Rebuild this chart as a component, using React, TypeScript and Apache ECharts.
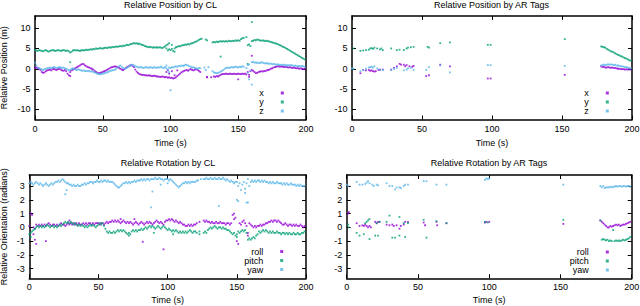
import React, { useEffect, useRef } from "react";
import * as echarts from "echarts";

// ---- sampling times of the CL estimates (s) ----
const CL_TIME = [
  0, 1, 2, 3, 4, 5, 6, 7, 8, 9, 10, 11, 12, 13, 14, 15, 16, 17, 18, 19,
  20, 21, 22, 23, 24, 25, 26, 27, 28, 29, 30, 31, 32, 33, 34, 35, 36, 37, 38, 39,
  40, 41, 42, 43, 44, 45, 46, 47, 48, 49, 50, 51, 52, 53, 54, 55, 56, 57, 58, 59,
  60, 61, 62, 63, 64, 65, 66, 67, 68, 69, 70, 71, 72, 73, 74, 75, 76, 77, 78, 79,
  80, 81, 82, 83, 84, 85, 86, 87, 88, 89, 90, 91, 92, 93, 94, 95, 96, 97, 98, 99,
  100, 101, 102, 103, 104, 105, 106, 107, 108, 109, 110, 111, 112, 113, 114, 115, 116, 117, 118, 119,
  120, 121, 122, 123, 124, 125, 126, 127, 128, 129, 130, 131, 132, 133, 134, 135, 136, 137, 138, 139,
  140, 141, 142, 143, 144, 145, 146, 147, 148, 149, 150, 151, 152, 153, 154, 155, 156, 157, 158, 159,
  160, 161, 162, 163, 164, 165, 166, 167, 168, 169, 170, 171, 172, 173, 174, 175, 176, 177, 178, 179,
  180, 181, 182, 183, 184, 185, 186, 187, 188, 189, 190, 191, 192, 193, 194, 195, 196, 197, 198, 199,
];

// ---- Relative Position by CL (m) ----
const CL_POS_X = [
  0.2, 0.3, 0.1, 0.0, -0.3, -0.8, -1.0, -0.9, -0.6, -0.4,
  -0.3, -0.2, -0.4, -0.1, 0.0, -0.2, -0.3, -0.1, 0.0, -0.2,
  -0.4, -0.5, -0.3, -0.6, -1.2, -1.6, -0.8, -0.4, -0.2, 0.0,
  0.2, 0.4, 0.6, 0.8, 1.0, 1.2, 1.1, 0.8, 0.6, 0.4,
  0.3, 0.1, 0.0, -0.2, -0.5, -0.8, -1.0, -1.1, -1.0, -0.9,
  -0.8, -0.6, -0.5, -0.3, -0.1, 0.1, 0.3, 0.4, 0.5, 0.6,
  0.5, 0.4, 0.2, 0.0, -0.2, -0.3, -0.1, 0.2, 0.4, 0.6,
  0.8, 0.9, 0.7, 0.4, -0.2, -0.7, -1.0, -1.3, -1.4, -1.5,
  -1.5, -1.6, -1.6, -1.7, -1.6, -1.7, -1.8, -1.8, -1.7, -1.8,
  -1.9, -1.9, -2.0, -2.0, -1.9, -2.0, -2.1, -2.0, -2.2, -2.1,
  -2.3, -2.2, -2.4, -2.3, -2.1, -1.8, -1.5, -1.2, -0.9, -0.7,
  -0.5, -0.4, -0.3, -0.5, -0.2, -0.1, -0.3, -0.4, -0.2, -0.1,
  -0.3, -0.5, -0.8, null, null, null, null, -2.0, null, null,
  -2.1, null, -1.9, -2.0, -1.8, -1.9, -1.7, -1.5, -1.3, -1.3,
  -1.3, -1.2, -1.3, -1.3, -1.2, -1.3, -1.3, -1.2, -1.3, -1.3,
  -1.2, -1.3, -1.3, -1.2, -1.3, -1.2, -1.4, -0.8, -1.5, -0.6,
  -0.3, -0.5, -0.8, -1.1, -1.0, -0.8, -0.7, -0.6, -0.7, -0.5,
  -0.6, -0.4, -0.3, -0.2, 0.0, 0.1, 0.3, 0.4, 0.5, 0.6,
  0.6, 0.5, 0.6, 0.5, 0.4, 0.5, 0.4, 0.3, 0.4, 0.3,
  0.2, 0.3, 0.2, 0.1, 0.2, 0.0, 0.1, 0.0, -0.1, 0.0,
];
const CL_POS_X_EXTRA = [
  [26, -1.8], [97, -0.8], [99, -1.2], [101, -0.6], [103, -1.6], [127, -2.1],
  [150, -2.6], [158, -2.0], [160, 3.2], [105, -0.4], [98, -0.3],
];

const CL_POS_Y = [
  4.6, 4.5, 4.4, 4.6, 4.5, 4.4, 4.3, 4.5, 4.6, 4.4,
  4.2, 4.4, 4.5, 4.6, 4.5, 4.4, 4.5, 4.6, 4.5, 4.4,
  4.5, 4.6, 4.5, 4.4, 4.5, 4.3, 4.0, 4.2, 4.5, 4.6,
  4.5, 4.6, 4.5, 4.4, 4.5, 4.6, 4.5, 4.6, 4.7, 4.6,
  4.7, 4.8, 4.7, 4.9, 4.8, 5.0, 4.9, 5.0, 5.1, 5.0,
  5.0, 5.1, 5.2, 5.1, 5.2, 5.3, 5.2, 5.4, 5.3, 5.4,
  5.5, 5.4, 5.5, 5.6, 5.5, 5.7, 5.6, 5.8, 5.9, 5.8,
  6.0, 6.1, 6.2, 6.3, 6.2, 6.3, 6.1, 6.2, 6.0, 5.9,
  5.8, 5.6, 5.5, 5.4, 5.3, 5.4, 5.3, 5.2, 5.3, 5.2,
  5.3, 5.2, 5.3, 5.2, 5.1, 5.3, 5.5, 5.8, 6.0, 4.8,
  4.6, 4.9, 4.4, 5.0, 5.3, 5.4, 5.6, 5.5, 5.7, 5.8,
  5.8, 6.0, 5.9, 6.1, 6.0, 6.2, 6.3, 6.4, 6.6, 6.7,
  6.9, 7.1, 7.3, 7.4, null, null, 7.2, 7.0, null, null,
  null, 6.5, 6.6, 6.5, 6.7, 6.6, 6.7, 6.8, 6.7, 6.8,
  6.7, 6.8, 6.7, 6.9, 6.8, 6.8, 6.9, 6.8, 7.0, 6.9,
  7.0, 6.9, 7.3, 7.5, 7.6, null, 7.8, 5.8, 6.0, 5.6,
  6.8, 6.9, 7.1, 7.0, 7.2, 7.1, 7.0, 6.9, 7.0, 6.9,
  6.8, 6.9, 6.8, 6.7, 6.6, 6.5, 6.4, 6.3, 6.2, 6.1,
  5.9, 5.8, 5.6, 5.4, 5.3, 5.1, 4.9, 4.7, 4.5, 4.3,
  4.1, 3.9, 3.7, 3.5, 3.3, 3.1, 2.9, 2.7, 2.5, 2.3,
];
const CL_POS_Y_EXTRA = [
  [26, 1.6], [137, 3.0], [160, 11.5], [157, 1.2], [98, 4.5], [99, 6.3],
  [101, 5.9], [103, 4.2], [97, 5.0],
];

const CL_POS_Z = [
  1.5, 0.8, 0.3, 0.1, 0.0, -0.2, -0.3, -0.1, 0.0, 0.1,
  0.2, 0.3, 0.2, 0.3, 0.4, 0.3, 0.2, 0.3, 0.4, 0.3,
  0.2, 0.3, 0.1, 0.0, -0.2, -0.4, -0.3, 0.0, 0.1, -0.1,
  -0.2, -0.3, -0.1, -0.3, -0.4, -0.5, -0.4, -0.6, -0.5, -0.6,
  -0.5, -0.7, -0.6, -0.8, -0.9, -1.0, -1.2, -1.3, -1.4, -1.3,
  -1.2, -1.1, -1.0, -0.9, -0.8, -0.6, -0.5, -0.4, -0.3, -0.2,
  0.0, 0.3, 0.6, 0.8, 0.5, 0.2, 0.0, 0.1, 0.3, 0.5,
  0.7, 0.9, 1.0, 0.8, 0.6, 0.5, 0.4, 0.3, 0.5, 0.3,
  0.2, 0.3, 0.4, 0.3, 0.2, 0.4, 0.3, 0.2, 0.4, 0.3,
  0.2, 0.4, 0.3, 0.5, 0.3, 0.2, 0.4, 0.1, -0.2, 0.3,
  0.2, 0.4, 0.3, 0.5, 0.6, 0.5, 0.7, 0.6, 0.8, 0.7,
  0.8, 1.0, 0.9, 0.8, 0.6, 0.5, 0.3, 0.4, 0.2, 0.1,
  0.0, 0.2, 0.1, null, null, 0.3, null, null, 0.4, null,
  null, -0.6, -0.9, -1.0, -1.1, -1.0, -0.9, -0.7, -0.5, -0.3,
  0.0, 0.2, 0.3, 0.2, 0.3, 0.4, 0.3, 0.4, 0.5, 0.4,
  0.3, 0.5, 0.4, 0.6, 0.5, null, 0.2, -1.0, 1.0, -0.4,
  1.6, 1.7, 1.5, 1.6, 1.4, 1.5, 1.4, 1.6, 1.5, 1.4,
  1.3, 1.4, 1.3, 1.2, 1.3, 1.1, 1.2, 1.1, 1.0, 1.1,
  1.0, 0.9, 1.0, 0.9, 1.0, 0.9, 0.8, 0.9, 0.8, 0.9,
  0.8, 0.7, 0.8, 0.7, 0.6, 0.7, 0.6, 0.7, 0.6, 0.5,
];
const CL_POS_Z_EXTRA = [
  [100, -5.3], [160, -3.9], [158, -2.6], [157, 0.9], [99, -0.8], [97, 0.8],
  [126, -0.3],
];

// ---- Relative Rotation by CL (radians) ----
const CL_ROT_ROLL = [
  0.1, 1.0, 0.9, 0.0, -0.1, 0.2, 0.1, 0.2, 0.1, 0.2,
  0.1, 0.2, 0.1, 0.2, 0.3, 0.2, 0.1, 0.2, 0.2, 0.1,
  0.2, 0.1, 0.2, 0.3, 0.2, 0.2, 0.1, 0.2, 0.3, 0.2,
  0.3, 0.2, 0.3, 0.2, 0.3, 0.2, 0.3, 0.2, 0.2, 0.3,
  0.2, 0.3, 0.2, 0.3, 0.3, 0.2, 0.3, 0.2, 0.3, 0.3,
  0.3, 0.2, 0.3, 0.3, 0.2, 0.3, 0.4, 0.3, 0.4, 0.4,
  0.5, 0.4, 0.5, 0.4, 0.5, 0.4, 0.3, 0.4, 0.5, 0.4,
  0.3, 0.4, 0.3, 0.4, 0.3, 0.2, 0.3, 0.4, 0.3, 0.2,
  0.3, 0.4, 0.3, 0.2, 0.3, 0.4, 0.3, 0.4, 0.3, 0.2,
  0.3, 0.4, 0.5, 0.4, 0.3, 0.4, 0.3, 0.2, 0.4, 0.5,
  0.5, 0.6, 0.5, 0.6, 0.5, 0.4, 0.5, 0.4, 0.3, 0.4,
  0.3, 0.2, 0.2, 0.1, 0.1, 0.2, 0.1, 0.2, 0.1, 0.2,
  0.2, 0.3, null, 0.4, null, null, 0.5, 0.4, 0.5, 0.4,
  0.4, 0.3, 0.4, 0.3, 0.3, 0.4, 0.3, 0.3, 0.4, 0.3,
  0.3, 0.3, 0.2, 0.3, 0.3, 0.2, 0.3, 0.9, 1.0, 0.7,
  -1.0, -1.2, 0.3, 0.2, 0.4, 0.5, 0.3, 0.1, -0.4, 0.3,
  0.2, 0.1, 0.0, 0.1, 0.0, 0.1, 0.1, 0.2, 0.1, 0.2,
  0.2, 0.3, 0.3, 0.4, 0.4, 0.5, 0.4, 0.5, 0.5, 0.4,
  0.5, 0.4, 0.3, 0.2, 0.2, 0.3, 0.2, 0.1, 0.2, 0.2,
  0.1, 0.2, 0.1, 0.2, 0.1, 0.1, 0.2, 0.1, 0.0, 0.1,
];
const CL_ROT_ROLL_EXTRA = [
  [3, -0.5], [4, -0.9], [5, -1.2], [12, -1.0], [82, -1.05], [97, -1.6],
  [148, 0.6], [158, -0.6], [29, 0.5], [66, 0.6], [76, 0.6],
];

const CL_ROT_PITCH = [
  -0.5, -0.4, -0.3, -0.2, -0.1, 0.0, 0.1, 0.0, 0.1, 0.0,
  0.1, 0.0, 0.1, 0.2, 0.1, 0.0, 0.1, 0.1, 0.0, 0.1,
  0.0, 0.1, 0.2, 0.1, 0.2, 0.3, 0.4, 0.3, 0.4, 0.3,
  0.4, 0.3, 0.2, 0.3, 0.2, 0.1, 0.2, 0.1, 0.2, 0.1,
  0.0, 0.1, 0.0, 0.1, 0.2, 0.1, 0.2, 0.1, 0.0, 0.1,
  0.2, 0.3, 0.2, 0.3, 0.1, -0.1, -0.3, -0.4, -0.3, -0.4,
  -0.4, -0.3, -0.4, -0.3, -0.2, -0.3, -0.2, -0.3, -0.2, -0.3,
  -0.4, -0.5, -0.4, -0.5, -0.3, -0.2, -0.3, -0.2, -0.3, -0.2,
  -0.2, -0.1, -0.2, -0.1, 0.0, -0.1, 0.0, 0.1, 0.0, 0.1,
  0.0, -0.1, 0.0, 0.1, 0.0, -0.1, 0.0, 0.1, 0.0, -0.1,
  -0.2, -0.1, -0.2, -0.3, -0.2, -0.3, -0.2, -0.3, -0.4, -0.3,
  -0.4, -0.3, -0.4, -0.3, -0.4, -0.3, -0.2, -0.3, -0.4, -0.3,
  -0.3, -0.4, null, -0.3, null, null, -0.4, -0.3, -0.4, -0.2,
  -0.1, 0.0, -0.1, 0.0, 0.1, 0.0, -0.1, 0.0, 0.0, -0.1,
  0.0, -0.1, -0.1, -0.2, -0.2, -0.3, -0.4, -0.5, -0.4, -0.6,
  -0.5, -0.3, -0.4, -0.3, -0.2, -0.3, -0.2, -0.4, -0.9, -0.8,
  -0.9, -0.8, -0.7, -0.8, -0.6, -0.5, -0.3, -0.4, -0.3, -0.2,
  -0.3, -0.2, -0.3, -0.4, -0.3, -0.4, -0.3, -0.4, -0.4, -0.3,
  -0.4, -0.4, -0.5, -0.4, -0.4, -0.5, -0.4, -0.5, -0.4, -0.5,
  -0.5, -0.4, -0.5, -0.5, -0.4, -0.5, -0.5, -0.4, -0.4, -0.3,
];
const CL_ROT_PITCH_EXTRA = [
  [1, -0.7], [72, -0.6], [90, -0.4], [104, -0.5], [123, -0.5], [150, -0.7],
];

const CL_ROT_YAW = [
  3.2, 3.3, 3.2, 3.1, 3.2, 3.3, 3.2, 3.1, 3.2, 3.1,
  3.0, 3.1, 3.2, 3.1, 3.0, 3.1, 3.2, 3.1, 3.2, 3.3,
  3.3, 3.4, 3.3, 3.4, 3.5, 3.4, 3.3, 3.2, 3.2, 3.1,
  3.1, 3.0, 3.1, 3.0, 3.0, 3.1, 3.0, 3.0, 3.1, 3.1,
  3.2, 3.1, 3.2, 3.2, 3.3, 3.3, 3.2, 3.3, 3.3, 3.4,
  3.3, 3.3, 3.4, 3.3, 3.4, 3.4, 3.3, 3.4, 3.3, 3.3,
  3.3, 3.2, 3.1, 3.0, 2.9, 2.9, 3.0, 3.1, 3.2, 3.2,
  3.3, 3.2, 3.3, 3.2, 3.3, 3.3, 3.4, 3.3, 3.4, 3.4,
  3.4, 3.5, 3.4, 3.5, 3.4, 3.5, 3.5, 3.4, 3.5, 3.5,
  3.5, 3.6, 3.5, 3.5, 3.6, 3.5, 3.5, 3.4, 3.5, 3.5,
  3.5, 3.4, 3.5, 3.4, 3.3, 3.2, 3.1, 3.0, 2.9, 3.0,
  3.1, 3.2, 3.2, 3.3, 3.2, 3.3, 3.2, 3.3, 3.3, 3.3,
  3.3, 3.4, 3.4, null, 3.5, null, 3.5, 3.5, 3.6, 3.5,
  3.5, 3.6, 3.5, 3.5, 3.6, 3.5, 3.5, 3.6, 3.5, 3.5,
  3.6, 3.5, 3.4, 3.5, 3.4, 3.3, 3.4, 3.3, 3.2, 3.3,
  3.3, 3.0, 3.2, 2.7, 3.1, 3.3, 2.8, 3.2, 3.5, 3.0,
  3.3, 3.4, 3.3, 3.4, 3.3, 3.4, 3.4, 3.3, 3.4, 3.3,
  3.4, 3.3, 3.3, 3.2, 3.3, 3.2, 3.3, 3.2, 3.2, 3.3,
  3.2, 3.2, 3.2, 3.1, 3.2, 3.1, 3.2, 3.1, 3.1, 3.2,
  3.1, 3.1, 3.1, 3.0, 3.1, 3.0, 3.1, 3.0, 3.0, 3.0,
];
const CL_ROT_YAW_EXTRA = [
  [26, 2.4], [27, 2.7], [88, 1.45], [89, 2.6], [137, 1.55], [150, 2.0],
  [151, 1.9], [157, 1.8], [158, 1.8], [156, 2.5], [95, 3.1], [100, 3.2],
];

// ---- Relative Position by AR Tags (m), [time, value] ----
const AR_POS_X = [
  [6, -1.1], [8, -0.3], [10, -0.4], [12, -0.3], [13, -0.5], [14, -0.4], [15, -0.6],
  [16, -0.7], [17, -0.6], [19, -0.3], [20, -0.2], [22, -0.2], [28, -0.2], [30, 0.2],
  [32, 0.6], [34, 1.2], [35, 1.0], [37, 1.0], [38, 0.6], [39, 0.9], [41, 0.6],
  [43, 0.5], [44, 0.7], [53, -1.8], [55, -1.6], [63, 1.0], [70, 0.6], [97, -2.4],
  [99, -2.4], [152, -1.5],
  [178, 0.6], [179, 0.4], [180, 0.5], [181, 0.3], [182, 0.3], [183, 0.4], [184, 0.3],
  [185, 0.2], [186, 0.3], [187, 0.2], [188, 0.2], [189, 0.1], [190, 0.0], [191, 0.0],
  [192, -0.1], [193, -0.1], [194, -0.1], [195, -0.2], [196, -0.1], [197, -0.2],
  [198, -0.1], [199, -0.2],
];
const AR_POS_Y = [
  [1, 5.0], [6, 4.4], [8, 4.5], [10, 4.6], [12, 4.7], [13, 5.0], [14, 5.1], [15, 4.9],
  [16, 5.2], [18, 5.0], [20, 4.8], [21, 5.0], [22, 4.6], [28, 5.0], [32, 4.6],
  [34, 4.7], [37, 4.6], [39, 5.0], [40, 5.2], [42, 5.3], [44, 5.4], [54, 5.4],
  [55, 5.2], [63, 6.3], [70, 6.5], [97, 5.9], [99, 5.9], [152, 7.3],
  [178, 5.5], [179, 5.4], [180, 5.3], [181, 5.2], [182, 4.9], [183, 4.7], [184, 4.5],
  [185, 4.3], [186, 4.2], [187, 4.0], [188, 3.8], [189, 3.6], [190, 3.4], [191, 3.3],
  [192, 3.1], [193, 3.0], [194, 2.8], [195, 2.6], [196, 2.5], [197, 2.3], [198, 2.1],
  [199, 2.0],
];
const AR_POS_Z = [
  [0, 0.1], [1, 0.0], [6, -0.6], [8, -0.3], [10, 0.0], [12, 0.3], [13, 0.4], [14, 0.5],
  [15, 0.3], [16, 0.6], [18, 0.1], [20, -0.2], [22, -0.3], [28, -0.3], [30, 0.0],
  [32, 0.2], [37, -0.4], [39, -0.2], [40, 0.1], [42, 0.2], [44, -0.3], [53, -0.3],
  [55, 0.4], [63, 0.8], [70, -0.9], [97, 0.9], [99, 0.9], [152, 0.7],
  [178, 0.8], [179, 0.9], [180, 1.0], [181, 0.9], [182, 1.0], [183, 1.1], [184, 1.0],
  [185, 1.1], [186, 1.0], [187, 0.9], [188, 1.0], [189, 0.8], [190, 0.8], [191, 0.7],
  [192, 0.6], [193, 0.6], [194, 0.5], [195, 0.4], [196, 0.4], [197, 0.3], [198, 0.2],
  [199, 0.1],
];

// ---- Relative Rotation by AR Tags (radians), [time, value] ----
const AR_ROT_ROLL = [
  [1, 1.0], [1.5, 1.1], [7, 0.3], [9, 0.1], [11, 0.15], [12, 0.1], [13, 0.2], [14, 0.1],
  [15, 0.0], [16, 0.1], [17, 0.0], [20, 0.4], [21, 0.3], [22, 0.4], [23, 0.4],
  [28, 0.2], [30, 0.15], [32, 0.2], [33, 0.1], [35, 0.15], [37, -0.1], [38, 0.1],
  [40, 0.2], [41, 0.4], [43, 0.4], [54, 0.35], [55, 0.15], [63, 0.4], [63.5, 0.15],
  [70, 0.3], [97, 0.35], [98, 0.4], [100, 0.4], [152, 0.25],
  [178, 0.5], [179, 0.4], [180, 0.3], [181, 0.2], [182, 0.1], [183, 0.0], [184, 0.0],
  [185, 0.1], [186, 0.05], [187, 0.1], [188, 0.15], [189, 0.2], [190, 0.15], [191, 0.2],
  [192, 0.1], [193, 0.15], [194, 0.2], [195, 0.2], [196, 0.25], [197, 0.3], [198, 0.35],
  [199, 0.4],
];
const AR_ROT_PITCH = [
  [1, 0.2], [1.5, 0.0], [7, -0.4], [9, -0.6], [12, -0.5], [13, 0.3], [14, 0.4],
  [15, 0.5], [16, 0.6], [16, -0.85], [20, -0.6], [21, 0.3], [22, -0.6], [23, 0.4],
  [28, 0.4], [30, 0.85], [32, -0.75], [34, -0.75], [37, -0.6], [37, 0.75], [40, 0.3],
  [41, -0.7], [43, 0.3], [54, 0.55], [56, -0.75], [63, 0.45], [70, 0.3], [97, 0.4],
  [99, 0.35], [152, 0.55],
  [178, 0.5], [179, -0.9], [180, -0.85], [181, -0.9], [182, -0.95], [183, -0.9],
  [184, -1.0], [185, -0.95], [186, -1.0], [187, -0.2], [188, -1.0], [189, -0.95],
  [190, -1.0], [191, -0.95], [192, -1.0], [193, -0.95], [194, -0.9], [195, -0.95],
  [196, -0.9], [197, -0.85], [198, -0.8], [199, -0.7],
];
const AR_ROT_YAW = [
  [0, 3.1], [1, 3.0], [7, 3.3], [9, 3.1], [11, 3.1], [13, 3.15], [14, 3.25], [15, 3.35],
  [16, 3.2], [18, 3.1], [19, 3.0], [21, 3.1], [22, 3.05], [28, 3.2], [30, 3.0],
  [32, 3.0], [34, 2.75], [35, 2.9], [37, 2.9], [38, 2.85], [40, 3.0], [41, 3.1],
  [43, 3.1], [54, 3.35], [56, 3.35], [63, 3.1], [70, 3.1], [97, 3.45], [98, 3.55],
  [99, 3.5], [100, 3.55], [152, 3.1],
  [178, 3.0], [179, 2.9], [180, 3.0], [181, 2.85], [182, 2.9], [183, 2.9], [184, 2.9],
  [185, 2.95], [186, 2.9], [187, 2.95], [188, 2.95], [189, 3.0], [190, 2.95], [191, 3.0],
  [192, 3.0], [193, 2.95], [194, 3.0], [195, 3.0], [196, 2.95], [197, 3.0], [198, 3.0],
  [199, 2.95],
];

// ---- labels ----
const TITLES = [
  "Relative Position by CL",
  "Relative Position by AR Tags",
  "Relative Rotation by CL",
  "Relative Rotation by AR Tags",
];
const POS_NAMES = ["x", "y", "z"];
const ROT_NAMES = ["roll", "pitch", "yaw"];
const X_NAME = "Time (s)";
const POS_Y_NAME = "Relative Position (m)";
const ROT_Y_NAME = "Relative Orientation (radians)";
const X_TICKS = [0, 50, 100, 150, 200];
const POS_TICKS = [-10, -5, 0, 5, 10];
const ROT_TICKS = [-3, -2, -1, 0, 1, 2, 3];

const COLORS = ["#9400d3", "#009e73", "#56b4e9"];
const FONT = "Liberation Sans";

function zipCL(vals: (number | null)[]) {
  const out: number[][] = [];
  CL_TIME.forEach((t, i) => {
    const v = vals[i];
    if (v !== null && v !== undefined) out.push([t, v]);
  });
  return out;
}

const GRIDS = [
  { left: 35, top: 16, width: 271, height: 103.5 },
  { left: 352, top: 16, width: 280, height: 103.5 },
  { left: 29.3, top: 175, width: 276.7, height: 103.3 },
  { left: 346.7, top: 175, width: 285, height: 103.3 },
];

const axisLine = { show: true, onZero: false, lineStyle: { color: "#000", width: 1.5 } };
const tickStyle = { color: "#000", width: 1 };

function xAxesFor(gi: number, nameGap: number) {
  return [
    {
      type: "value", gridIndex: gi, min: 0, max: 200, interval: 50, position: "bottom",
      name: X_NAME, nameLocation: "middle", nameGap,
      nameTextStyle: { fontSize: 9, color: "#000", fontFamily: FONT },
      axisLine,
      axisTick: { show: true, inside: true, length: 4, lineStyle: tickStyle, customValues: X_TICKS },
      axisLabel: { fontSize: 9, color: "#000", margin: 4.5, fontFamily: FONT, customValues: X_TICKS },
      splitLine: { show: false },
    },
    {
      type: "value", gridIndex: gi, min: 0, max: 200, interval: 50, position: "top",
      axisLine,
      axisTick: { show: true, inside: true, length: 4, lineStyle: tickStyle, customValues: X_TICKS },
      axisLabel: { show: false },
      splitLine: { show: false },
    },
  ];
}

function yAxesFor(gi: number, min: number, max: number, ticks: number[], name: string, nameGap: number) {
  return [
    {
      type: "value", gridIndex: gi, min, max, position: "left",
      name, nameLocation: "middle", nameGap,
      nameTextStyle: { fontSize: 9, color: "#000", fontFamily: FONT },
      axisLine,
      axisTick: { show: true, inside: true, length: 4, lineStyle: tickStyle, customValues: ticks },
      axisLabel: { fontSize: 9, color: "#000", margin: 4.5, fontFamily: FONT, customValues: ticks },
      splitLine: { show: false },
    },
    {
      type: "value", gridIndex: gi, min, max, position: "right",
      axisLine,
      axisTick: { show: true, inside: true, length: 4, lineStyle: tickStyle, customValues: ticks },
      axisLabel: { show: false },
      splitLine: { show: false },
    },
  ];
}

function scatter(name: string, gi: number, color: string, data: number[][]) {
  return {
    type: "scatter", name, xAxisIndex: gi * 2, yAxisIndex: gi * 2,
    symbol: "rect", symbolSize: 1.8, itemStyle: { color }, data, silent: true,
  };
}

function legendFor(names: string[], right: number, top: number) {
  return {
    data: names, orient: "vertical", align: "right", right, top,
    itemWidth: 3, itemHeight: 3, itemGap: 0, icon: "rect", selectedMode: false,
    padding: 0,
    textStyle: {
      fontSize: 9, color: "#000", fontFamily: FONT, lineHeight: 9,
      padding: [0, 12, 0, 0],
    },
  };
}

export default function App() {
  const ref = useRef<HTMLDivElement>(null);
  useEffect(() => {
    if (!ref.current) return;
    const chart = echarts.init(ref.current, undefined, { renderer: "svg" });
    const option: any = {
      animation: false,
      textStyle: { fontFamily: FONT, color: "#000" },
      title: [
        { text: TITLES[0], left: 170.5, top: 0 },
        { text: TITLES[1], left: 491.5, top: 0 },
        { text: TITLES[2], left: 168, top: 158 },
        { text: TITLES[3], left: 489, top: 158 },
      ].map((t) => ({
        ...t, textAlign: "center", padding: 0,
        textStyle: { fontSize: 9, fontWeight: "normal", color: "#000", fontFamily: FONT },
      })),
      grid: GRIDS.map((g) => ({ ...g, containLabel: false, outerBoundsMode: "none" })),
      xAxis: [
        ...xAxesFor(0, 18.5), ...xAxesFor(1, 18.5), ...xAxesFor(2, 17), ...xAxesFor(3, 17),
      ],
      yAxis: [
        ...yAxesFor(0, -12.5, 13, POS_TICKS, POS_Y_NAME, 26.5),
        ...yAxesFor(1, -12.5, 13, POS_TICKS, "", 20),
        ...yAxesFor(2, -3.7, 3.8, ROT_TICKS, ROT_Y_NAME, 21),
        ...yAxesFor(3, -3.7, 3.8, ROT_TICKS, "", 20),
      ],
      legend: [
        legendFor(POS_NAMES, 356.2, 88.5),
        legendFor(POS_NAMES, 31.2, 88.5),
        legendFor(ROT_NAMES, 356.8, 247),
        legendFor(ROT_NAMES, 31.2, 247.5),
      ],
      series: [
        scatter(POS_NAMES[0], 0, COLORS[0], zipCL(CL_POS_X).concat(CL_POS_X_EXTRA)),
        scatter(POS_NAMES[1], 0, COLORS[1], zipCL(CL_POS_Y).concat(CL_POS_Y_EXTRA)),
        scatter(POS_NAMES[2], 0, COLORS[2], zipCL(CL_POS_Z).concat(CL_POS_Z_EXTRA)),
        scatter(POS_NAMES[0], 1, COLORS[0], AR_POS_X),
        scatter(POS_NAMES[1], 1, COLORS[1], AR_POS_Y),
        scatter(POS_NAMES[2], 1, COLORS[2], AR_POS_Z),
        scatter(ROT_NAMES[0], 2, COLORS[0], zipCL(CL_ROT_ROLL).concat(CL_ROT_ROLL_EXTRA)),
        scatter(ROT_NAMES[1], 2, COLORS[1], zipCL(CL_ROT_PITCH).concat(CL_ROT_PITCH_EXTRA)),
        scatter(ROT_NAMES[2], 2, COLORS[2], zipCL(CL_ROT_YAW).concat(CL_ROT_YAW_EXTRA)),
        scatter(ROT_NAMES[0], 3, COLORS[0], AR_ROT_ROLL),
        scatter(ROT_NAMES[1], 3, COLORS[1], AR_ROT_PITCH),
        scatter(ROT_NAMES[2], 3, COLORS[2], AR_ROT_YAW),
      ],
    };
    chart.setOption(option);
    return () => chart.dispose();
  }, []);
  return (
    <div
      ref={ref}
      style={{ position: "fixed", left: 0, top: 0, width: 640, height: 306, background: "#fff" }}
    />
  );
}
